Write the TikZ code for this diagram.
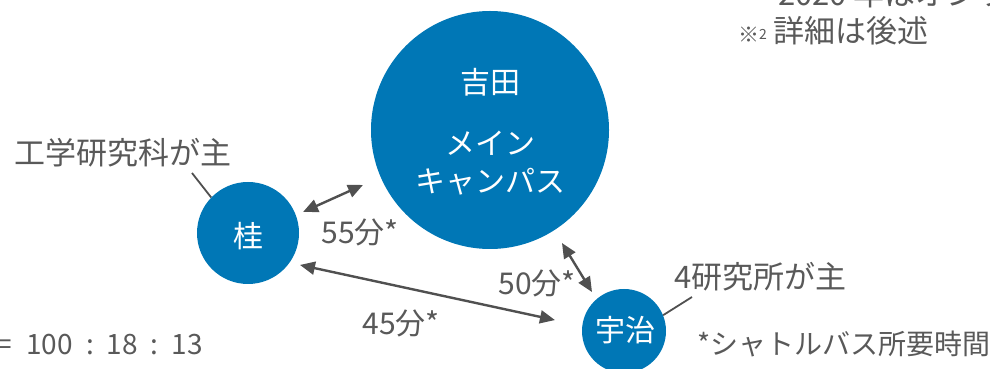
\documentclass[tikz,border=0pt]{standalone}
\usepackage{fontspec}
\setmainfont{Noto Sans CJK JP}
\usetikzlibrary{arrows.meta,calc}
\definecolor{kublue}{HTML}{0077B6}
\definecolor{txtgray}{HTML}{595959}
\definecolor{arrgray}{HTML}{505050}
\tikzset{
  campus/.style={circle,fill=kublue,inner sep=0pt},
  wtext/.style={text=white,font=\fontsize{30}{35}\selectfont,inner sep=0pt},
  gtext/.style={text=txtgray,font=\fontsize{31}{36}\selectfont,inner sep=0pt},
  stext/.style={text=txtgray,font=\fontsize{28}{33}\selectfont,inner sep=0pt},
  ntext/.style={text=txtgray,font=\fontsize{30}{35}\selectfont,inner sep=0pt},
  bus/.style={arrgray,line width=2.4pt,{Triangle[length=15pt,width=13pt]}-{Triangle[length=15pt,width=13pt]}},
  lead/.style={arrgray,line width=1.8pt}
}
\begin{document}
\begin{tikzpicture}[x=1pt,y=1pt]
\useasboundingbox (0,0) rectangle (990,369);
\clip (0,0) rectangle (990,369);
% campuses
\node[campus,minimum size=238pt] (yoshida) at (490,239) {};
\node[campus,minimum size=102pt] (katsura) at (248,136) {};
\node[campus,minimum size=84pt] (uji) at (624,38) {};
\node[wtext] (tyoshida) at (490,287) {吉田};
\node[wtext] (tmain1) at (490,226) {メイン};
\node[wtext] (tmain2) at (490,187) {キャンパス};
\node[wtext] (tkatsura) at (248,133) {桂};
\node[wtext] (tuji) at (625,39) {宇治};
% bus connections
\draw[bus] ($(katsura)+(20.9:58.9pt)$) -- ($(yoshida)+(203.4:138.4pt)$);
\draw[bus] ($(katsura)+(-31.6:61pt)$) -- ($(uji)+(171:69.9pt)$);
\draw[bus] ($(yoshida)+(-57.5:134pt)$) -- ($(uji)+(129.4:50.4pt)$);
\node[ntext] (t55) at (360,137) {55分*};
\node[ntext] (t50) at (537,86) {50分*};
\node[ntext] (t45) at (401,46) {45分*};
% annotations
\node[gtext] (kougaku) at (123,216) {工学研究科が主};
\coordinate (kougakuend) at (192,196);
\draw[lead] (kougakuend) -- (katsura.136);
\node[gtext,anchor=west] (kenkyusho) at (674,92) {4研究所が主};
\coordinate (kenkyuend) at (692,72);
\draw[lead] (kenkyuend) -- (uji.22);
\node[stext,anchor=west] (shuttle) at (697,25) {*シャトルバス所要時間};
\node[stext,anchor=east] (ratio) at (203,24) {=\hspace{14pt}100\hspace{13pt}:\hspace{13pt}18\hspace{13pt}:\hspace{13pt}13};
\node[gtext,anchor=base west] (online) at (778,363) {2020 年はオンライン};
\node[gtext,anchor=west] (detail) at (738,338) {{\fontsize{21}{24}\selectfont ※\raisebox{3pt}{\fontsize{14}{16}\selectfont 2}} 詳細は後述};
\end{tikzpicture}
\end{document}
